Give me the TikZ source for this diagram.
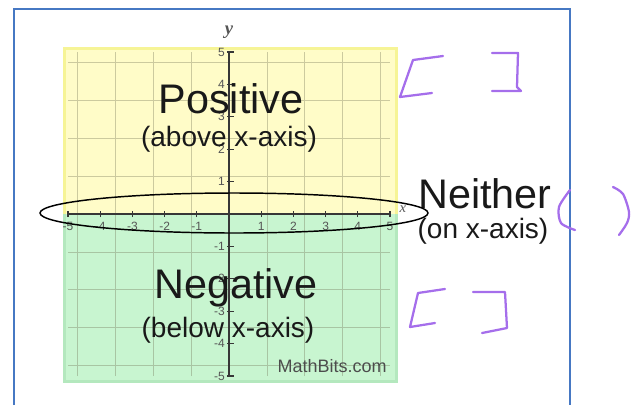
\documentclass[tikz,border=0pt]{standalone}
\usepackage{fontspec}
\newfontfamily\arialf{Liberation Sans}
\newfontfamily\timesf{Liberation Serif}
\definecolor{posfill}{RGB}{255,252,200}
\definecolor{posedge}{RGB}{246,244,150}
\definecolor{negfill}{RGB}{200,245,208}
\definecolor{negedge}{RGB}{180,232,190}
\definecolor{gridline}{RGB}{110,110,80}
\definecolor{axisgray}{RGB}{55,55,55}
\definecolor{labelgray}{RGB}{85,85,85}
\definecolor{frameblue}{RGB}{70,120,195}
\definecolor{penpurple}{RGB}{165,110,235}
\tikzset{
  bigword/.style={font=\arialf\fontsize{31}{31}\selectfont, text=black!90, anchor=base, inner sep=0pt},
  smallword/.style={font=\arialf\fontsize{21}{21}\selectfont, text=black!90, anchor=base, inner sep=0pt},
  ticklab/.style={font=\arialf\fontsize{9}{9}\selectfont, text=labelgray, inner sep=1pt},
  scribble/.style={penpurple, line width=1.7pt, line cap=round, line join=round},
}
\begin{document}
\begin{tikzpicture}[x=0.75pt, y=-0.75pt]
    \useasboundingbox (0,0) rectangle (644,405);
    % Рамка
    \draw[frameblue, line width=1.1pt] (14,405) -- (14,9) -- (570,9) -- (570,405);

    % Области выше и ниже оси
    \fill[posedge] (63,47) rectangle (398,214);
    \fill[posfill] (66,50) rectangle (395,214);
    \fill[negedge] (63,214) rectangle (398,383);
    \fill[negfill] (66,214) rectangle (395,380);

    % Сетка и оси
    \begin{scope}[shift={(229,214)}, x=24.15pt, y=24.3pt]
        \draw[gridline, opacity=0.35, line width=0.6pt] (-5,-5) grid (5,5);
        \draw[axisgray, line width=1.4pt] (0,-5) -- (0,5);
        \draw[axisgray, line width=1.4pt] (-5,0) -- (5,0);
        \foreach \k in {-5,-4,-3,-2,-1,1,2,3,4,5} {
            \draw[axisgray, line width=0.8pt] (-0.06,\k) -- (0.15,\k);
            \draw[axisgray, line width=0.8pt] (\k,-0.1) -- (\k,0.1);
            \node[ticklab, anchor=east] (yl\k) at (-0.08,\k) {\k};
            \node[ticklab, anchor=north] (xl\k) at (\k,-0.2) {\k};
        }
        \node[font=\timesf\bfseries\itshape\fontsize{14}{14}\selectfont, text=labelgray] (ylab) at (0,5.6) {y};
        \node[font=\timesf\itshape\fontsize{11}{11}\selectfont, text=labelgray] (xlab) at (5.4,0.15) {x};
    \end{scope}

    % Подписи
    \node[bigword] (pos) at (231,113) {Positive};
    \node[smallword] (posnote) at (229,146) {(above x-axis)};
    \node[bigword] (neg) at (236,298) {Negative};
    \node[smallword] (negnote) at (228,337) {(below x-axis)};
    \node[bigword] (nei) at (485,208) {Neither};
    \node[smallword] (neinote) at (483,238) {(on x-axis)};
    \node[font=\arialf\fontsize{13.5}{13.5}\selectfont, text=black!70, anchor=base east, inner sep=0pt] (site) at (387,372) {MathBits.com};

    % Овал вокруг оси x
    \draw[line width=1.1pt] (234,213) ellipse [x radius=145.5pt, y radius=15pt];

    % Скобки от руки
    \draw[scribble] (443,56) -- (413,60) -- (400,97) -- (432,93);
    \draw[scribble] (492,53) -- (518,53) -- (517,87) -- (521,91) -- (492,91);
    \draw[scribble] plot[smooth] coordinates {(570,190) (559,207) (561,223) (575,230)};
    \draw[scribble] plot[smooth] coordinates {(613,187) (623,194) (629,212) (627,223) (619,235)};
    \draw[scribble] (445,289) -- (418,293) -- (410,327) -- (435,323);
    \draw[scribble] (473,292) -- (505,292) -- (507,328) -- (482,333);
\end{tikzpicture}
\end{document}
